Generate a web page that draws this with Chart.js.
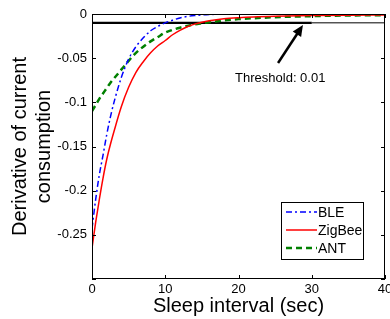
<!DOCTYPE html>
<html>
<head>
<meta charset="utf-8">
<script src="https://cdn.jsdelivr.net/npm/chart.js@4/dist/chart.umd.min.js"></script>
<style>
  html, body { margin: 0; padding: 0; background: #fff; }
  #wrap { width: 390px; height: 319px; }
</style>
</head>
<body>
<div id="wrap"><canvas id="derivChart"></canvas></div>
<script>
// sleep interval (sec) sample points
const sleepSec = [0, 0.5, 1, 1.5, 2, 2.5, 3, 4, 5, 6, 7, 8, 9, 10, 11, 12, 13, 14, 15, 16, 18, 20, 22, 25, 30, 35, 40];
const ble = [-0.243, -0.210, -0.182, -0.160, -0.137, -0.117, -0.100, -0.072, -0.051, -0.037, -0.027, -0.019, -0.014, -0.010, -0.007,
  -0.0045, -0.0028, -0.0017, -0.001, -0.0006, -0.0002, 0, 0, 0, 0, 0, 0];
const zigbee = [-0.265, -0.236, -0.210, -0.186, -0.165, -0.148, -0.133, -0.105, -0.083, -0.066, -0.054, -0.044, -0.036, -0.030, -0.0235,
  -0.0185, -0.0145, -0.0115, -0.0093, -0.0077, -0.0055, -0.0042, -0.0033, -0.0025, -0.0018, -0.0014, -0.0012];
const ant = [-0.110, -0.103, -0.096, -0.090, -0.084, -0.078, -0.073, -0.063, -0.053, -0.044, -0.037, -0.031, -0.026, -0.021, -0.018,
  -0.0155, -0.0135, -0.0118, -0.0105, -0.0093, -0.0072, -0.0058, -0.0048, -0.0036, -0.0024, -0.0017, -0.0013];
const threshold = -0.01;
const thresholdX = [0, 30, 40];
const xTicks = [0, 10, 20, 30, 40];
const yTicks = [0, -0.05, -0.1, -0.15, -0.2, -0.25, -0.3];

const FONT = "Arial, 'Liberation Sans', Helvetica, sans-serif";

const pts = (ys) => sleepSec.map((x, i) => ({ x: x, y: ys[i] }));

// box, inward ticks, arrow note and legend, MATLAB style
const frame = {
  id: "frame",
  afterDatasetsDraw(chart) {
    const { ctx, chartArea: a, scales } = chart;
    const xs = scales.x, ys = scales.y;
    ctx.save();
    ctx.strokeStyle = "#000";
    ctx.lineWidth = 1;
    ctx.strokeRect(a.left + 0.5, a.top + 0.5, a.right - a.left - 1, a.bottom - a.top - 1);
    ctx.beginPath();
    xTicks.forEach((t) => {
      const px = Math.round(xs.getPixelForValue(t)) + 0.5;
      ctx.moveTo(px, a.bottom); ctx.lineTo(px, a.bottom - 4);
      ctx.moveTo(px, a.top); ctx.lineTo(px, a.top + 4);
    });
    yTicks.forEach((t) => {
      const py = Math.round(ys.getPixelForValue(t)) + 0.5;
      ctx.moveTo(a.left, py); ctx.lineTo(a.left + 4, py);
      ctx.moveTo(a.right, py); ctx.lineTo(a.right - 4, py);
    });
    ctx.stroke();

    // arrow pointing at the threshold line
    const x0 = xs.getPixelForValue(25.4), y0 = ys.getPixelForValue(-0.0555);
    const x1 = xs.getPixelForValue(28.8), y1 = ys.getPixelForValue(-0.0125);
    const ang = Math.atan2(y1 - y0, x1 - x0);
    ctx.lineWidth = 2.5;
    ctx.beginPath();
    ctx.moveTo(x0, y0);
    ctx.lineTo(x1 - 8 * Math.cos(ang), y1 - 8 * Math.sin(ang));
    ctx.stroke();
    ctx.fillStyle = "#000";
    ctx.beginPath();
    ctx.moveTo(x1, y1);
    ctx.lineTo(x1 - 11 * Math.cos(ang) + 5 * Math.sin(ang), y1 - 11 * Math.sin(ang) - 5 * Math.cos(ang));
    ctx.lineTo(x1 - 11 * Math.cos(ang) - 5 * Math.sin(ang), y1 - 11 * Math.sin(ang) + 5 * Math.cos(ang));
    ctx.closePath();
    ctx.fill();
    ctx.font = "13px " + FONT;
    ctx.textAlign = "center";
    ctx.textBaseline = "middle";
    ctx.fillText("Threshold: 0.01", xs.getPixelForValue(25.7), ys.getPixelForValue(-0.0725));

    // legend box
    const bw = 82, bh = 57;
    const bx = a.right - 22 - bw, by = a.bottom - 20 - bh;
    ctx.fillStyle = "#fff";
    ctx.fillRect(bx, by, bw, bh);
    ctx.lineWidth = 1;
    ctx.strokeRect(bx + 0.5, by + 0.5, bw, bh);
    ctx.font = "14px " + FONT;
    ctx.textAlign = "left";
    chart.data.datasets.slice(0, 3).forEach((ds, i) => {
      const ly = by + 10 + i * 18;
      ctx.strokeStyle = ds.borderColor;
      ctx.lineWidth = ds.borderWidth;
      ctx.setLineDash(ds.borderDash || []);
      ctx.beginPath();
      ctx.moveTo(bx + 5, ly);
      ctx.lineTo(bx + 36, ly);
      ctx.stroke();
      ctx.setLineDash([]);
      ctx.fillStyle = "#000";
      ctx.fillText(ds.label, bx + 37, ly + 1);
    });
    ctx.restore();
  },
};

const ctx = document.getElementById("derivChart").getContext("2d");
const myChart = new Chart(ctx, {
  type: "line",
  data: {
    datasets: [
      {
        label: "BLE",
        data: pts(ble),
        borderColor: "#0000ff",
        borderWidth: 1.5,
        borderDash: [6, 3, 2, 3],
      },
      {
        label: "ZigBee",
        data: pts(zigbee),
        borderColor: "#ff0000",
        borderWidth: 1.5,
      },
      {
        label: "ANT",
        data: pts(ant),
        borderColor: "#008000",
        borderWidth: 2.5,
        borderDash: [6, 4],
      },
      {
        label: "Threshold",
        data: thresholdX.map((x) => ({ x: x, y: threshold })),
        borderColor: "#000",
        borderWidth: 2,
        segment: { borderWidth: (c) => (c.p0.parsed.x >= 30 ? 1 : 2.2) },
      },
    ],
  },
  options: {
    responsive: true,
    maintainAspectRatio: false,
    animation: false,
    devicePixelRatio: 1,
    layout: { padding: { top: 14, right: 5, left: 0, bottom: 0 } },
    elements: {
      point: { radius: 0 },
      line: { cubicInterpolationMode: "monotone", fill: false },
    },
    plugins: {
      legend: { display: false },
      tooltip: { enabled: false },
    },
    scales: {
      x: {
        type: "linear",
        min: 0,
        max: 40,
        afterBuildTicks: (s) => { s.ticks = xTicks.map((v) => ({ value: v })); },
        afterFit: (s) => { s.height = 40; s.paddingLeft = 0; s.paddingRight = 0; },
        grid: { display: false, drawTicks: false },
        border: { display: false },
        ticks: { color: "#000", padding: 3, maxRotation: 0, font: { family: FONT, size: 13 } },
        title: {
          display: true,
          text: "Sleep interval (sec)",
          color: "#000",
          font: { family: FONT, size: 20 },
          padding: { top: 0, bottom: 1 },
        },
      },
      y: {
        min: -0.3,
        max: 0,
        afterBuildTicks: (s) => { s.ticks = yTicks.map((v) => ({ value: v })); },
        afterFit: (s) => { s.width = 92; s.paddingTop = 0; s.paddingBottom = 0; },
        grid: { display: false, drawTicks: false },
        border: { display: false },
        ticks: {
          color: "#000",
          padding: 5,
          font: { family: FONT, size: 13 },
          callback: (v) => (Math.abs(v + 0.3) < 1e-9 ? "" : String(Math.round(v * 100) / 100)),
        },
        title: {
          display: true,
          text: ["Derivative of current", "consumption"],
          color: "#000",
          font: { family: FONT, size: 20 },
          padding: { top: 8, bottom: 0 },
        },
      },
    },
  },
  plugins: [frame],
});
</script>
</body>
</html>
